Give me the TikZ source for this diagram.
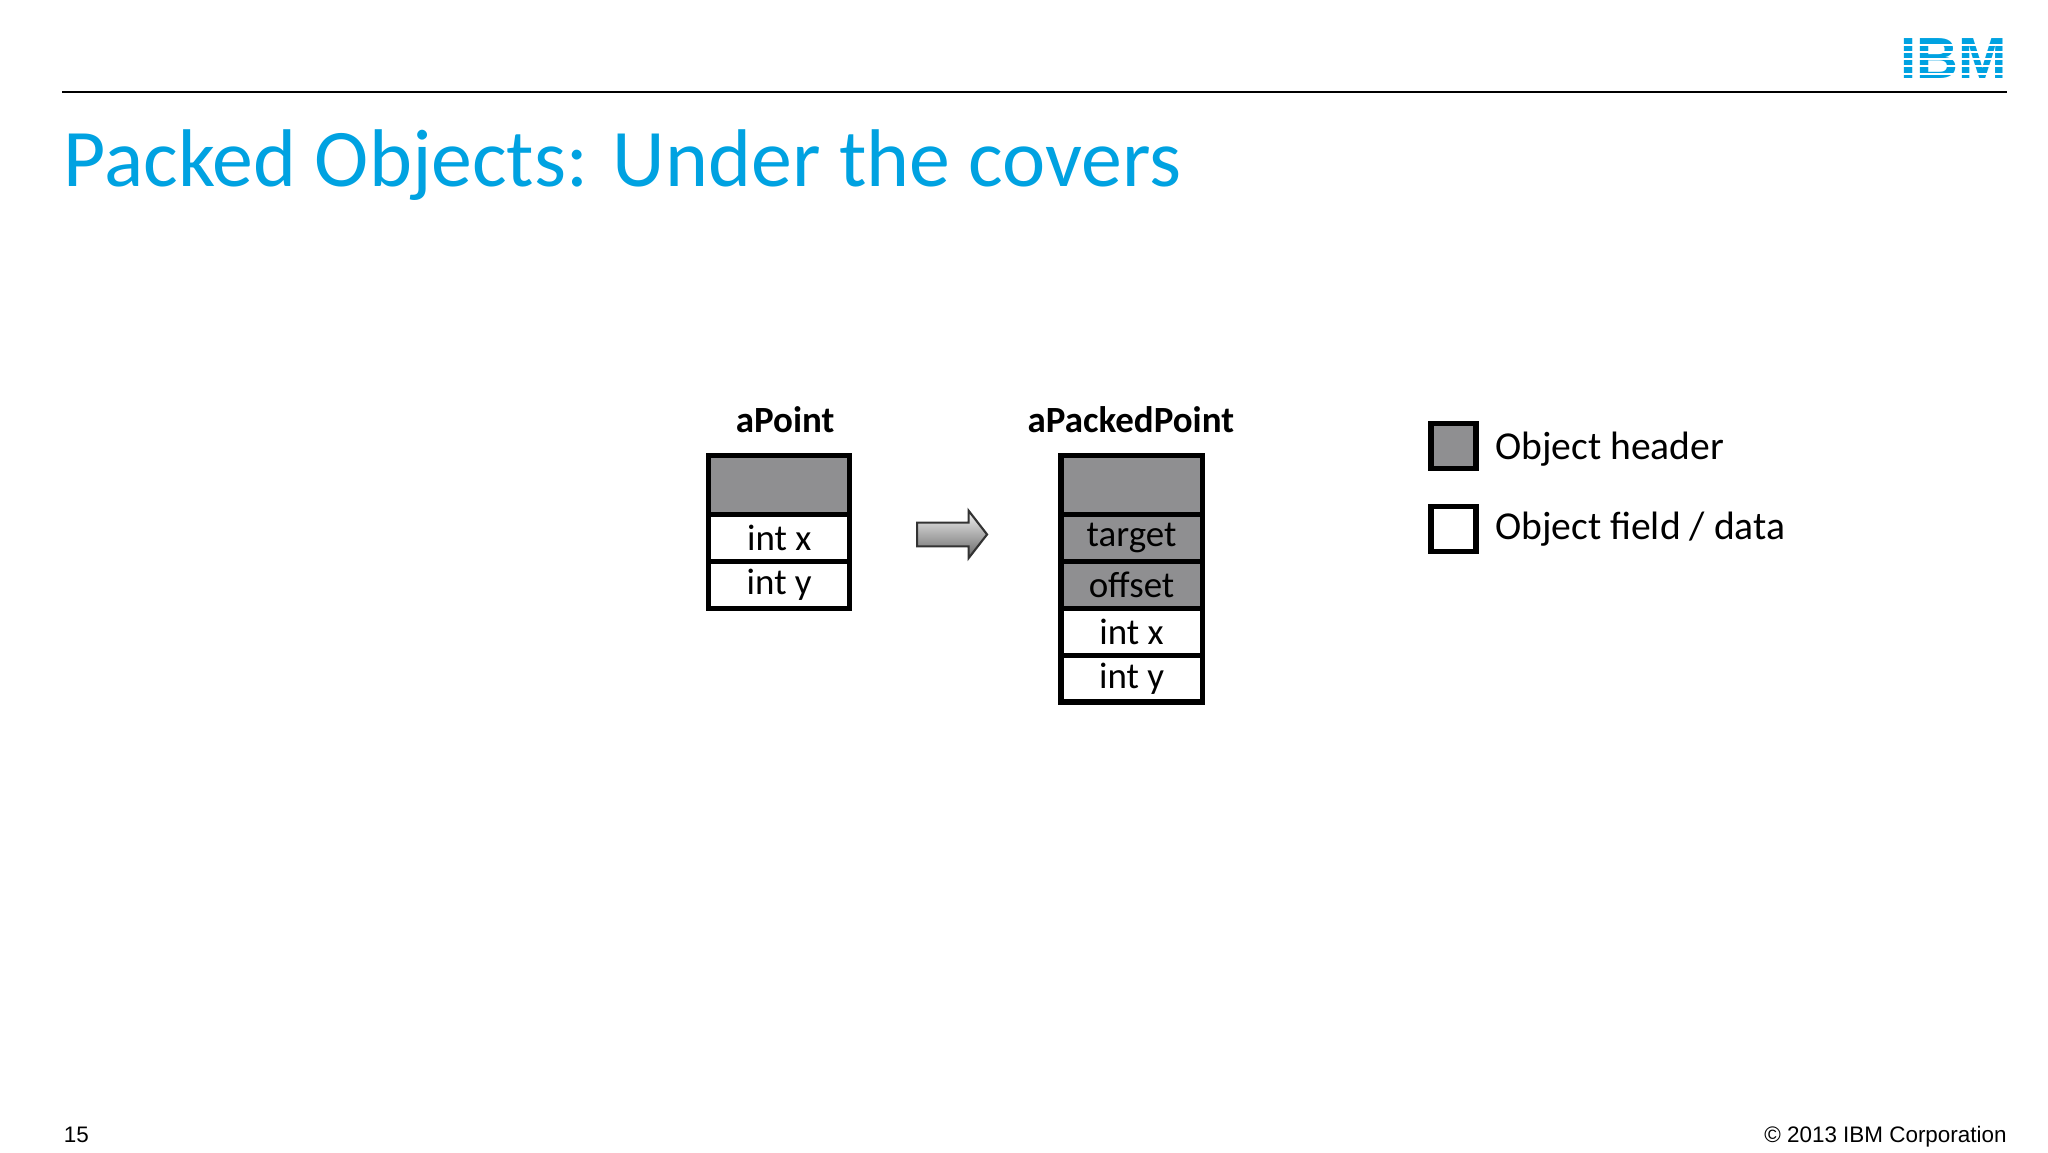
\documentclass[tikz,border=0pt]{standalone}
\usepackage{fontspec}
\setmainfont{Carlito}
\newfontfamily\arialf{Liberation Sans}
\definecolor{ibmblue}{RGB}{0,162,225}
\definecolor{hdr}{RGB}{143,143,145}
\begin{document}
\begin{tikzpicture}[x=0.5pt,y=-0.5pt,
  cell/.style={draw=black,line width=2pt,minimum width=53.5pt,minimum height=17.75pt,inner sep=0pt,font=\fontsize{14}{14}\selectfont,anchor=north west},
  hcell/.style={cell,fill=hdr,minimum height=22.5pt},
  gcell/.style={cell,fill=hdr},
  wcell/.style={cell,fill=white},
  lbl/.style={font=\fontsize{14}{14}\selectfont\bfseries},
  leg/.style={font=\fontsize{15}{15}\selectfont,anchor=west}]
\fill[white] (0,0) rectangle (1552,873);
\useasboundingbox (0,0) rectangle (1552,873);
\draw[line width=0.8pt] (47,70) -- (1521,70);
\node[anchor=east,inner sep=0pt,text=ibmblue,font=\arialf\fontsize{22}{22}\selectfont\bfseries] (logo) at (1521,44) {IBM};
\foreach \yy in {33,38.5,44,49.5,55} \fill[white] (1410,\yy) rectangle (1525,\yy+1.6);
\node[anchor=base west,inner sep=0pt,text=ibmblue,font=\fontsize{31}{31}\selectfont] (title) at (48,141) {Packed Objects: Under the covers};
% aPoint
\node[lbl] (lp) at (595,318) {aPoint};
\node[hcell] (p0) at (535,343) {};
\node[wcell] (p1) at (535,388) {int x};
\node[wcell] (p2) at (535,423.5) {int y};
% arrow
\shade[top color=white!90!gray,bottom color=gray!80!black,draw=black!80,line width=0.8pt]
  (695,396) -- (734,396) -- (734,387) -- (748,405) -- (734,423) -- (734,414) -- (695,414) -- cycle;
% aPackedPoint
\node[lbl] (lq) at (857,318) {aPackedPoint};
\node[hcell] (q0) at (802,343) {};
\node[gcell] (q1) at (802,388) {target};
\node[gcell] (q2) at (802,423.5) {offset};
\node[wcell] (q3) at (802,459) {int x};
\node[wcell] (q4) at (802,494.5) {int y};
% legend
\node[draw=black,line width=2pt,fill=hdr,minimum size=17pt,inner sep=0pt] (k1) at (1101.5,338) {};
\node[leg] (t1) at (1126,340) {Object header};
\node[draw=black,line width=2pt,fill=white,minimum size=17pt,inner sep=0pt] (k2) at (1101.5,401) {};
\node[leg] (t2) at (1126,401) {Object field / data};
% footer
\node[anchor=base west,inner sep=0pt,font=\arialf\fontsize{8.5}{8.5}\selectfont] (pg) at (48,866) {15};
\node[anchor=base east,inner sep=0pt,font=\arialf\fontsize{8.5}{8.5}\selectfont] (cp) at (1521,866) {© 2013 IBM Corporation};
\end{tikzpicture}
\end{document}
